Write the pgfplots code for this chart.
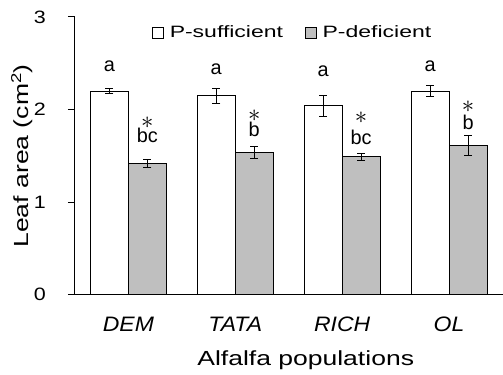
\documentclass[border=0pt]{standalone}
\usepackage{pgfplots}
\pgfplotsset{compat=1.18}
\usepackage{fontspec}
\setmainfont{Liberation Sans}
\newfontfamily\tickfont{Liberation Sans}[FakeStretch=1.2]
\newfontfamily\lblfont{Liberation Sans}[FakeStretch=1.3]
\newfontfamily\catfont{Liberation Sans}[FakeStretch=1.1]
\newfontfamily\legfont{Liberation Sans}[FakeStretch=1.4]
\newfontfamily\annfont{Liberation Sans}[FakeStretch=1.0]
\definecolor{bargray}{RGB}{191,191,191}
\begin{document}
\begin{tikzpicture}
\begin{axis}[
 name=ax,
 scale only axis, width=428bp, height=278bp,
 xmin=-0.5, xmax=3.5, ymin=0, ymax=3,
 clip=false,
 axis x line*=bottom, axis y line*=left,
 axis line style={line width=1bp, -},
 xtick={0,1,2,3}, xticklabels={DEM,TATA,RICH,OL},
 x tick label style={font=\catfont\fontsize{21}{24}\selectfont\itshape, anchor=center, yshift=-23bp},
 xtick style={draw=none},
 ytick={0,1,2,3}, ytick style={line width=1bp, black}, tick align=outside, major tick length=7bp,
 /pgf/number format/assume math mode=true,
 y tick label style={font=\tickfont\fontsize{18}{20}\selectfont, anchor=center, xshift=-28bp},
 ybar=0pt, bar width=38bp,
 legend style={at={(axis description cs:0.5,1)}, anchor=center, yshift=-15.5bp, xshift=3bp,
   draw=none, fill=none, legend columns=2,
   font=\legfont\fontsize{16.5}{19}\selectfont,
   nodes={inner sep=0pt},
   /tikz/every odd column/.append style={column sep=6bp},
   /tikz/every even column/.append style={column sep=22bp}},
 legend image code/.code={\draw[#1, line width=0.6bp] (0bp,-5.5bp) rectangle (11bp,5.5bp);},
]
\addplot[draw=black, line width=0.8bp, fill=white,
  error bars/.cd, y dir=both, y explicit,
  error bar style={line width=0.8bp, black},
  error mark options={rotate=90, mark size=4bp, line width=0.8bp, black}]
 coordinates {(0,2.20) +- (0,0.025) (1,2.15) +- (0,0.08) (2,2.04) +- (0,0.115) (3,2.20) +- (0,0.063)};
\addplot[draw=black, line width=0.8bp, fill=bargray,
  error bars/.cd, y dir=both, y explicit,
  error bar style={line width=0.8bp, black},
  error mark options={rotate=90, mark size=4bp, line width=0.8bp, black}]
 coordinates {(0,1.42) +- (0,0.04) (1,1.535) +- (0,0.065) (2,1.49) +- (0,0.04) (3,1.61) +- (0,0.108)};
\legend{P-sufficient,P-deficient}
% axis titles
\node[font=\lblfont\fontsize{20.5}{24}\selectfont, rotate=90, anchor=center, inner sep=0pt]
  at ([xshift=-53bp]axis description cs:0,0.5) {Leaf area (cm\textsuperscript{2})};
\node[font=\lblfont\fontsize{20.5}{24}\selectfont, anchor=center, inner sep=0pt]
  at ([xshift=17bp,yshift=-66bp]axis description cs:0.5,0) {Alfalfa populations};
% significance letters
\begin{scope}[every node/.style={font=\annfont\fontsize{20}{22}\selectfont, anchor=base, inner sep=0pt}]
\node at ([xshift=-19bp]axis cs:0,2.416) {a};
\node at ([xshift=-19bp]axis cs:1,2.384) {a};
\node at ([xshift=-19bp]axis cs:2,2.352) {a};
\node at ([xshift=-19bp]axis cs:3,2.406) {a};
\node at ([xshift=19bp]axis cs:0,1.64) {bc};
\node at ([xshift=19bp]axis cs:1,1.704) {b};
\node at ([xshift=19bp]axis cs:2,1.618) {bc};
\node at ([xshift=19bp]axis cs:3,1.78) {b};
\end{scope}
\begin{scope}[every node/.style={font=\fontsize{32}{32}\selectfont, anchor=center, inner sep=0pt}]
\node at ([xshift=19bp]axis cs:0,1.855) {$\ast$};
\node at ([xshift=19bp]axis cs:1,1.931) {$\ast$};
\node at ([xshift=19bp]axis cs:2,1.909) {$\ast$};
\node at ([xshift=19bp]axis cs:3,2.028) {$\ast$};
\end{scope}
\end{axis}
\path ([xshift=-75bp,yshift=-80bp]ax.south west) rectangle ([yshift=17bp]ax.north east);
\end{tikzpicture}
\end{document}
